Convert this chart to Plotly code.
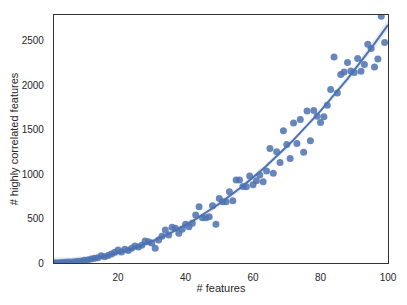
import numpy as np
import plotly.graph_objects as go

n_features = list(range(1, 100))
n_corr = [2, 4, 5, 8, 10, 12, 15, 20, 22, 30,
          35, 45, 53, 60, 82, 71, 85, 101, 120, 146,
          125, 154, 140, 165, 191, 180, 200, 247, 240, 225,
          165, 258, 300, 371, 315, 401, 390, 334, 380, 435,
          408, 446, 539, 633, 509, 509, 520, 644, 435, 727,
          690, 689, 801, 700, 933, 933, 860, 857, 978, 880,
          925, 989, 913, 1034, 1288, 1011, 1251, 1131, 1487, 1333,
          1176, 1576, 1345, 1614, 1247, 1711, 1374, 1715, 1652, 1580,
          1644, 1775, 1951, 2318, 1913, 2120, 2150, 2255, 2161, 2143,
          2300, 2157, 2232, 2460, 2412, 2205, 2295, 2775, 2480]
x_ticks = [20, 40, 60, 80, 100]
y_ticks = [0, 500, 1000, 1500, 2000, 2500]

x = np.array(n_features, dtype=float)
y = np.array(n_corr, dtype=float)

# quadratic regression with 95% CI of the mean
X = np.vstack([np.ones_like(x), x, x**2]).T
beta, *_ = np.linalg.lstsq(X, y, rcond=None)
resid = y - X @ beta
dof = len(x) - 3
s2 = resid @ resid / dof
XtX_inv = np.linalg.inv(X.T @ X)
xg = np.linspace(1, 100, 100)
Xg = np.vstack([np.ones_like(xg), xg, xg**2]).T
yg = Xg @ beta
se = np.sqrt(np.einsum('ij,jk,ik->i', Xg, XtX_inv, Xg) * s2)
lo = yg - 1.98 * se
hi = yg + 1.98 * se

blue = "#4C72B0"
fig = go.Figure()
fig.add_trace(go.Scatter(x=xg, y=lo, mode="lines", line=dict(width=0), showlegend=False, hoverinfo="skip"))
fig.add_trace(go.Scatter(x=xg, y=hi, mode="lines", line=dict(width=0), fill="tonexty",
                         fillcolor="rgba(76,114,176,0.13)", showlegend=False, hoverinfo="skip"))
fig.add_trace(go.Scatter(x=x, y=y, mode="markers",
                         marker=dict(color=blue, size=7, opacity=0.85, line=dict(width=0)),
                         showlegend=False))
fig.add_trace(go.Scatter(x=xg, y=yg, mode="lines", line=dict(color=blue, width=2), showlegend=False))

font = dict(family="Liberation Sans, Arial, sans-serif", color="#262626")
fig.update_layout(
    width=407, height=305,
    margin=dict(l=46, r=27, t=7, b=50, autoexpand=False),
    paper_bgcolor="white", plot_bgcolor="white",
    font=dict(size=10, **font),
)
fig.update_xaxes(range=[1, 100], tickvals=x_ticks, showgrid=False, zeroline=False,
                 showline=True, linecolor="#333333", linewidth=1.2, mirror=True,
                 ticks="", ticklabelstandoff=5, automargin=False,
                 title=dict(text="# features", font=dict(size=11, **font), standoff=2))
fig.update_yaxes(range=[0, 2790], tickvals=y_ticks, showgrid=False, zeroline=False,
                 showline=True, linecolor="#333333", linewidth=1.2, mirror=True,
                 ticks="", ticklabelstandoff=7, automargin=False,
                 title=dict(text="# highly correlated features", font=dict(size=11, **font), standoff=6))
fig.write_html("out.html")
